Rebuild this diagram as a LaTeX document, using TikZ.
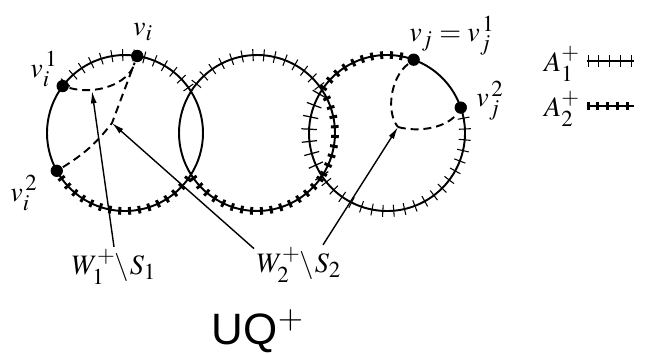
\documentclass[tikz,border=0pt]{standalone}
\usepackage{mathptmx}
\usepackage[no-math]{fontspec}
\newfontfamily\uqfont{Liberation Sans}
\usetikzlibrary{decorations.markings,arrows.meta,calc}
\DeclareMathSizes{16}{16}{13}{10}

\tikzset{
    ticka/.style={postaction={decorate,decoration={markings,
        mark=between positions 0.03 and 1 step 6.2pt with
        {\draw[line width=0.6pt] (0pt,-3.4pt) -- (0pt,3.4pt);}}}},
    tickb/.style={postaction={decorate,decoration={markings,
        mark=between positions 0.03 and 1 step 5.6pt with
        {\draw[line width=1.7pt] (0pt,-2.2pt) -- (0pt,2.2pt);}}}},
    tickc/.style={postaction={decorate,decoration={markings,
        mark=between positions 0.06 and 1 step 7pt with
        {\draw[line width=0.7pt] (0pt,-4.4pt) -- (0pt,4.4pt);}}}},
    vdot/.style={circle,fill,inner sep=0pt,minimum size=7pt},
    lbl/.style={inner sep=1pt,font=\fontsize{16}{19}\selectfont},
}

\begin{document}
\begin{tikzpicture}[x=0.02cm,y=0.02cm,>={Latex[length=7pt,width=3.4pt]},line width=1.1pt]
    \useasboundingbox (0,0) rectangle (659,353);
    \def\r{78}
    \coordinate (cl) at (125,220);
    \coordinate (cm) at (257,220);
    \coordinate (cr) at (387,220);

    % left circle
    \draw[ticka] ($(cl)+(143:\r)$) arc[start angle=143,end angle=32.5,radius=\r];
    \draw ($(cl)+(32.5:\r)$) arc[start angle=32.5,end angle=-32.5,radius=\r];
    \draw[tickb] ($(cl)+(-32.5:\r)$) arc[start angle=-32.5,end angle=-151,radius=\r];
    \draw ($(cl)+(209:\r)$) arc[start angle=209,end angle=143,radius=\r];

    % middle circle
    \draw[ticka] ($(cm)+(33.5:\r)$) arc[start angle=33.5,end angle=148,radius=\r];
    \draw ($(cm)+(148:\r)$) arc[start angle=148,end angle=212,radius=\r];
    \draw[tickb] ($(cm)+(212:\r)$) arc[start angle=212,end angle=326.5,radius=\r];
    \draw[tickb] ($(cm)+(-33.5:\r)$) arc[start angle=-33.5,end angle=33.5,radius=\r];

    % right circle
    \draw[tickb] ($(cr)+(70:\r)$) arc[start angle=70,end angle=146,radius=\r];
    \draw[tickc] ($(cr)+(146:\r)$) arc[start angle=146,end angle=214,radius=\r];
    \draw[ticka] ($(cr)+(214:\r)$) arc[start angle=214,end angle=379,radius=\r];
    \draw ($(cr)+(19:\r)$) arc[start angle=19,end angle=70,radius=\r];

    % vertices
    \node[vdot] (vi)  at ($(cl)+(81:\r)$) {};
    \node[vdot] (vi1) at ($(cl)+(143:\r)$) {};
    \node[vdot] (vi2) at ($(cl)+(209:\r)$) {};
    \node[vdot] (vj)  at ($(cr)+(70:\r)$) {};
    \node[vdot] (vj2) at ($(cr)+(19:\r)$) {};

    \node[lbl] (vilab)  at (143,321) {$v_i$};
    \node[lbl] (vi1lab) at (44,284) {$v_i^{\,1}$};
    \node[lbl] (vi2lab) at (24,160) {$v_i^{\,2}$};
    \node[lbl] (vjlab)  at (452,317) {$v_j=v_j^{\,1}$};
    \node[lbl] (vj2lab) at (490,252) {$v_j^{\,2}$};

    % dashed paths
    \coordinate (p1) at (92,262);
    \coordinate (p2) at (112,230);
    \coordinate (q) at (398,226);
    \begin{scope}[dash pattern=on 4.5pt off 2.8pt]
        \draw (vi1) .. controls (95,258) and (128,268) .. (vi);
        \draw (vi2) to[bend right=10] (p2) -- (vi);
        \draw (vj) .. controls (390,275) and (386,240) .. (q);
        \draw (q) .. controls (420,220) and (448,226) .. (vj2);
    \end{scope}

    % labels and arrows
    \node[lbl] (w1lab) at (114,86) {$W_1^{+}\mkern-1mu\backslash\mkern1mu S_1$};
    \node[lbl] (w2lab) at (299,88) {$W_2^{+}\mkern-1mu\backslash\mkern1mu S_2$};
    \draw[->,line width=0.8pt] (w1lab.north) -- (p1);
    \draw[->,line width=0.8pt] (w2lab.160) -- (p2);
    \draw[->,line width=0.8pt] (w2lab.40) -- (q);

    \node[inner sep=1pt,font=\fontsize{25}{28}\uqfont] (uq) at (258,22) {UQ$^+$};

    % legend
    \node[lbl] (a1lab) at (562,289) {$A_1^+$};
    \node[lbl] (a2lab) at (562,244) {$A_2^+$};
    \coordinate (a1e) at (634,292);
    \coordinate (a2e) at (634,247);
    \draw[ticka,line width=0.8pt] (a1lab.east) ++(4,3) -- (a1e);
    \draw[tickb,line width=0.8pt] (a2lab.east) ++(4,3) -- (a2e);
\end{tikzpicture}
\end{document}
